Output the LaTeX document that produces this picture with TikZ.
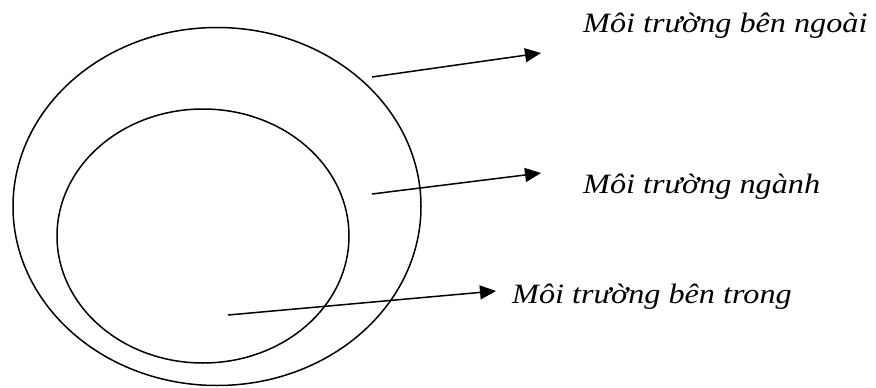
\documentclass[tikz,border=0pt]{standalone}
\usepackage{fontspec}
\usepackage{graphicx}
\setmainfont{Liberation Serif}
\usetikzlibrary{arrows.meta,shapes.geometric}
\newcommand{\wide}[1]{\scalebox{1.15}[1]{#1}}
\begin{document}
\begin{tikzpicture}[x=1pt,y=-1pt,
  ring/.style={draw,line width=1.5pt,ellipse,inner sep=0pt},
  lbl/.style={anchor=base west,inner sep=0pt,font=\fontsize{28}{32}\selectfont\itshape},
  arr/.style={line width=1.5pt,-{Triangle[length=16pt,width=14pt]}}]
\useasboundingbox (0,0) rectangle (876,388);
\node[ring,minimum width=408pt,minimum height=358pt] (outer) at (217,206.5) {};
\node[ring,minimum width=292pt,minimum height=254pt] (inner) at (203,236) {};
\coordinate (s1) at (372,77);
\coordinate (e1) at (541,53);
\coordinate (s2) at (372,194);
\coordinate (e2) at (541,173);
\coordinate (s3) at (228,315);
\coordinate (e3) at (496,291);
\draw[arr] (s1) -- (e1);
\draw[arr] (s2) -- (e2);
\draw[arr] (s3) -- (e3);
\node[lbl] (t1) at (583,32) {\wide{Môi trường bên ngoài}};
\node[lbl] (t2) at (583,193) {\wide{Môi trường ngành}};
\node[lbl] (t3) at (512,303) {\wide{Môi trường bên trong}};
\end{tikzpicture}
\end{document}
